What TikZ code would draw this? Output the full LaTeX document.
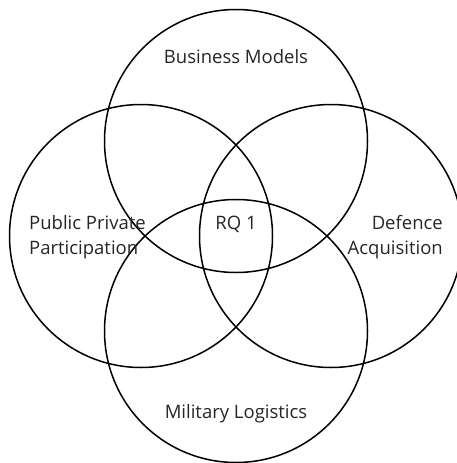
\documentclass[tikz,border=0pt]{standalone}
\usepackage{fontspec}
\setmainfont{Open Sans}
\begin{document}
\begin{tikzpicture}[x=1pt,y=-1pt,
  ring/.style={circle,draw=black,line width=1.5pt,minimum size=263pt,inner sep=0pt},
  lbl/.style={font=\fontsize{18.5}{25}\selectfont,text=black!85,inner sep=0pt}]
\useasboundingbox (0,0) rectangle (457,463);
\node[ring] (bm) at (236,141) {};
\node[ring] (ppp) at (141,236) {};
\node[ring] (da) at (331,236) {};
\node[ring] (ml) at (236,331) {};
\node[lbl] (tbm) at (236,57) {Business Models};
\node[lbl,anchor=west,align=left] (tppp) at (29,237) {Public Private\\Participation};
\node[lbl] (trq) at (236,224) {RQ 1};
\node[lbl,anchor=east,align=right] (tda) at (443,237) {Defence\\Acquisition};
\node[lbl] (tml) at (236,414) {Military Logistics};
\end{tikzpicture}
\end{document}
